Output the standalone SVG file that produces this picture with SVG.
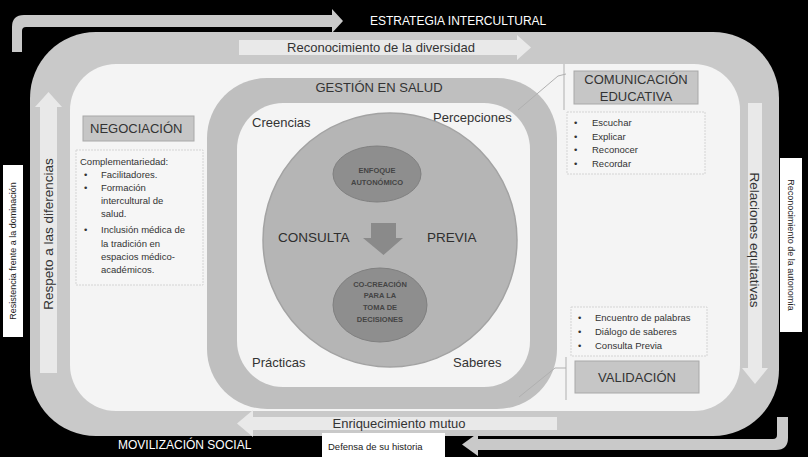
<svg xmlns="http://www.w3.org/2000/svg" width="808" height="457" viewBox="0 0 808 457">
<defs>
<style>
text{font-family:"Liberation Sans",Arial,sans-serif;fill:#333}
.lbl{font-size:13px}
.sm{font-size:9.5px}
.xs{font-size:7.5px;font-weight:bold;fill:#444}
.wt{fill:#fff}
.box{fill:#c6c6c6;stroke:#a8a8a8;stroke-width:1}
.lst{fill:#f6f6f6;stroke:#d4d4d4;stroke-width:1;stroke-dasharray:2 1}
.arr{fill:#e9e9e9}
.conn{fill:none;stroke:#b0b0b0;stroke-width:1}
</style>
</defs>
<rect x="0" y="0" width="808" height="457" fill="#000"/>
<g id="outer-band">
<rect x="30" y="32" width="749" height="404" rx="66" fill="#c9c9c9"/>
<rect x="70" y="64" width="670" height="347" rx="46" fill="#f4f4f4"/>
</g>
<g id="estrategia">
<path d="M12,52 L12,27 Q12,15 24,15 L332,15 L332,9 L343,21 L332,33 L332,27 L26,27 Q22,27 22,31 L22,52 Z" fill="#c9c9c9"/>
<text x="370" y="25" class="lbl wt" style="font-size:12px">ESTRATEGIA INTERCULTURAL</text>
</g>
<g id="movilizacion">
<path d="M788,417 L788,438 Q788,450 776,450 L478,450 L478,456 L462,444.5 L478,433 L478,439 L773,439 Q777,439 777,435 L777,417 Z" fill="#c9c9c9"/>
<text x="118" y="449" class="lbl wt" style="font-size:12px">MOVILIZACIÓN SOCIAL</text>
</g>
<g id="diversidad">
<path d="M239,40 L517,40 L517,35 L531,47.5 L517,60 L517,55 L239,55 Z" class="arr"/>
<text x="381" y="52" class="lbl" text-anchor="middle">Reconocimiento de la diversidad</text>
</g>
<g id="enriquecimiento">
<path d="M557,417 L253,417 L253,410 L237,423.5 L253,437 L253,430 L557,430 Z" class="arr"/>
<text x="399" y="428" class="lbl" text-anchor="middle">Enriquecimiento mutuo</text>
</g>
<g id="respeto">
<path d="M40,373 L40,107 L35,107 L48.5,92 L62,107 L57,107 L57,373 Z" class="arr"/>
<text transform="translate(53,234) rotate(-90)" class="lbl" text-anchor="middle" style="font-size:13.5px">Respeto a las diferencias</text>
</g>
<g id="relaciones">
<path d="M748,103 L762,103 L762,368 L768,368 L755,384 L742,368 L748,368 Z" class="arr"/>
<text transform="translate(750,240) rotate(90)" class="lbl" text-anchor="middle" style="font-size:13.5px">Relaciones equitativas</text>
</g>
<g id="resistencia">
<rect x="3" y="165" width="20" height="172" fill="#fff"/>
<text transform="translate(16,251) rotate(-90)" class="sm" text-anchor="middle" style="font-size:9px;fill:#222">Resistencia frente a la dominación</text>
</g>
<g id="autonomia">
<rect x="780" y="158" width="22" height="174" fill="#fff"/>
<text transform="translate(788,245) rotate(90)" class="sm" text-anchor="middle" style="font-size:9px;fill:#222">Reconocimiento de la autonomía</text>
</g>
<g id="defensa">
<rect x="322" y="433" width="123" height="24" fill="#fff"/>
<text x="328" y="450" class="sm" style="fill:#222">Defensa de su historia</text>
</g>
<g id="gestion">
<rect x="207" y="78" width="350" height="331" rx="60" fill="#bfbfbf"/>
<rect x="237" y="103" width="293" height="284" rx="46" fill="#f4f4f4"/>
<text x="379" y="92" class="lbl" text-anchor="middle">GESTIÓN EN SALUD</text>
<text x="252" y="127" class="lbl">Creencias</text>
<text x="433" y="122" class="lbl">Percepciones</text>
<text x="252" y="367" class="lbl">Prácticas</text>
<text x="453" y="367" class="lbl">Saberes</text>
</g>
<g id="consulta-previa">
<circle cx="390" cy="240" r="127" fill="#b5b5b5" stroke="#a3a3a3" stroke-width="1.5"/>
<text x="278" y="242" class="lbl" style="font-size:13.5px;fill:#2e2e2e">CONSULTA</text>
<text x="427" y="242" class="lbl" style="font-size:13.5px;fill:#2e2e2e">PREVIA</text>
</g>
<g id="enfoque">
<ellipse cx="377" cy="174" rx="44" ry="28" fill="#8e8e8e" stroke="#808080"/>
<text x="377" y="173" class="xs" text-anchor="middle">ENFOQUE</text>
<text x="377" y="185" class="xs" text-anchor="middle">AUTONÓMICO</text>
</g>
<g id="flecha-central">
<path d="M371,223 L396,223 L396,238 L403,238 L383.5,255 L363,238 L371,238 Z" fill="#8a8a8a"/>
</g>
<g id="cocreacion">
<ellipse cx="380" cy="305" rx="47" ry="37" fill="#8e8e8e" stroke="#808080"/>
<text x="380" y="287" class="xs" text-anchor="middle">CO-CREACIÓN</text>
<text x="380" y="298" class="xs" text-anchor="middle">PARA LA</text>
<text x="380" y="310" class="xs" text-anchor="middle">TOMA DE</text>
<text x="380" y="322" class="xs" text-anchor="middle">DECISIONES</text>
</g>
<g id="negociacion">
<rect x="83" y="116" width="111" height="25" class="box"/>
<text x="90" y="133" class="lbl">NEGOCIACIÓN</text>
<rect x="76" y="150" width="127" height="135" class="lst"/>
<text x="80" y="165" class="sm">Complementariedad:</text>
<text x="84" y="178" class="sm">•</text><text x="101" y="178" class="sm">Facilitadores.</text>
<text x="84" y="191" class="sm">•</text><text x="101" y="191" class="sm">Formación</text>
<text x="101" y="204" class="sm">intercultural de</text>
<text x="101" y="217" class="sm">salud.</text>
<text x="84" y="233" class="sm">•</text><text x="101" y="233" class="sm">Inclusión médica de</text>
<text x="101" y="247" class="sm">la tradición en</text>
<text x="101" y="260" class="sm">espacios médico-</text>
<text x="101" y="273" class="sm">académicos.</text>
</g>
<g id="comunicacion">
<rect x="574" y="71" width="124" height="33" class="box"/>
<text x="636" y="84" class="lbl" text-anchor="middle">COMUNICACIÓN</text>
<text x="636" y="101" class="lbl" text-anchor="middle">EDUCATIVA</text>
<rect x="567" y="112" width="138" height="62" class="lst"/>
<text x="574" y="126" class="sm">•</text><text x="592" y="126" class="sm">Escuchar</text>
<text x="574" y="140" class="sm">•</text><text x="592" y="140" class="sm">Explicar</text>
<text x="574" y="153" class="sm">•</text><text x="592" y="153" class="sm">Reconocer</text>
<text x="574" y="167" class="sm">•</text><text x="592" y="167" class="sm">Recordar</text>
</g>
<g id="validacion">
<rect x="571" y="307" width="136" height="49" class="lst"/>
<text x="578" y="321" class="sm">•</text><text x="595" y="321" class="sm">Encuentro de palabras</text>
<text x="578" y="335" class="sm">•</text><text x="595" y="335" class="sm">Diálogo de saberes</text>
<text x="578" y="349" class="sm">•</text><text x="595" y="349" class="sm">Consulta Previa</text>
<rect x="575" y="361" width="124" height="32" class="box"/>
<text x="637" y="382" class="lbl" text-anchor="middle">VALIDACIÓN</text>
</g>
<g id="connectors">
<polyline points="518,110 558,76 566,74" class="conn"/>
<line x1="564" y1="64" x2="564" y2="110" class="conn" stroke="#dadada"/>
<polyline points="519,397 555,368 566,368" class="conn"/>
<line x1="566" y1="357" x2="566" y2="400" class="conn"/>
</g>
</svg>
